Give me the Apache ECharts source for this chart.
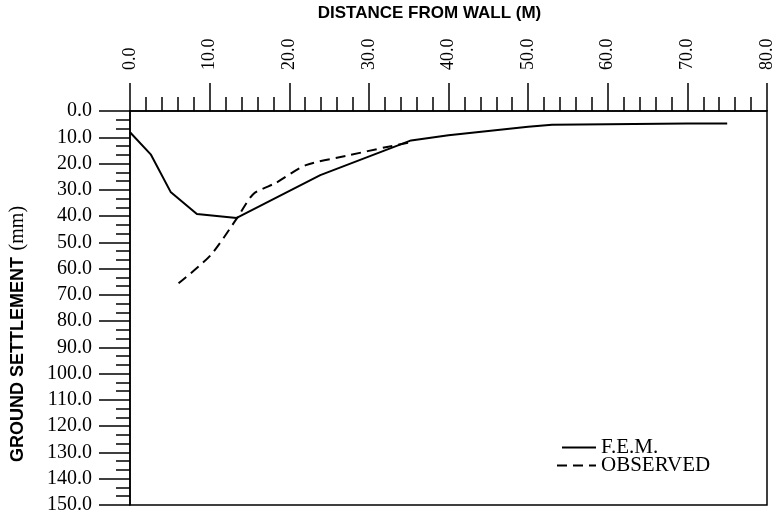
<!DOCTYPE html>
<html>
<head>
    <meta charset="utf-8">
    <title>Ground settlement</title>
    <script src="https://cdn.jsdelivr.net/npm/echarts@6/dist/echarts.min.js"></script>
</head>
<body style="margin:0;background:#fff;">
    <div id="main" style="width: 779px;height: 518px;"></div>
    <script type="text/javascript">
        // distance from wall (m), settlement (mm)
        var femX = [0, 2.6, 5.1, 8.4, 13.4, 23.9, 35.3, 40, 45, 50, 53, 60, 70, 75];
        var femY = [8.1, 16.5, 30.8, 39.2, 40.7, 24.4, 11.2, 9.2, 7.6, 6.0, 5.2, 5.0, 4.8, 4.8];
        var obsX = [6.1, 10.1, 13.4, 15.5, 18.3, 22.1, 27.6, 32.1, 35.3];
        var obsY = [65.6, 55, 41, 31.6, 27.4, 20.6, 16.8, 13.8, 11.9];
        var seriesNames = ['F.E.M.', 'OBSERVED'];

        function pairs(xs, ys) {
            var out = [];
            for (var i = 0; i < xs.length; i++) out.push([xs[i], ys[i]]);
            return out;
        }

        var serif = '"Liberation Serif", "DejaVu Serif", serif';
        var sans = '"Liberation Sans", Arial, sans-serif';

        var myChart = echarts.init(document.getElementById('main'));
        var option = {
            animation: false,
            backgroundColor: '#fff',
            grid: {
                left: 126, right: 12, top: 108, bottom: 13,
                show: true, borderColor: '#000', borderWidth: 1.5
            },
            legend: [{
                data: [seriesNames[0]],
                left: 556, top: 432,
                itemWidth: 34, itemHeight: 14,
                itemStyle: { opacity: 0 },
                textStyle: { fontFamily: serif, fontSize: 21, color: '#000' }
            }, {
                data: [seriesNames[1]],
                left: 551, top: 450,
                itemWidth: 39, itemHeight: 14,
                itemStyle: { opacity: 0 },
                textStyle: { fontFamily: serif, fontSize: 21, color: '#000' }
            }],
            xAxis: {
                type: 'value',
                position: 'top',
                min: 0, max: 80, interval: 10,
                name: 'DISTANCE FROM WALL (M)',
                nameLocation: 'middle',
                nameGap: 89,
                nameTextStyle: {
                    fontFamily: sans, fontWeight: 'bold', fontSize: 17, color: '#000',
                    padding: [0, 38, 0, 0]
                },
                axisLine: { lineStyle: { color: '#000', width: 1.5 } },
                axisTick: { length: 28, lineStyle: { color: '#000', width: 1.5 } },
                minorTick: { show: true, splitNumber: 5, length: 14, lineStyle: { color: '#000', width: 1.5 } },
                splitLine: { show: false },
                axisLabel: {
                    rotate: 90, margin: 41,
                    fontFamily: serif, fontSize: 18, color: '#000',
                    formatter: function (v) { return v.toFixed(1); }
                }
            },
            yAxis: {
                type: 'value',
                inverse: true,
                min: 0, max: 150, interval: 10,
                name: '{b|GROUND SETTLEMENT}  {s|(mm)}',
                nameLocation: 'middle',
                nameRotate: 90,
                nameGap: 102,
                nameTextStyle: {
                    padding: [0, 52, 0, 0],
                    rich: {
                        b: { fontFamily: sans, fontWeight: 'bold', fontSize: 18, color: '#000' },
                        s: { fontFamily: serif, fontSize: 20, color: '#000' }
                    }
                },
                axisLine: { lineStyle: { color: '#000', width: 1.5 } },
                axisTick: { length: 31, lineStyle: { color: '#000', width: 1.5 } },
                minorTick: { show: true, splitNumber: 3, length: 14, lineStyle: { color: '#000', width: 1.5 } },
                splitLine: { show: false },
                axisLabel: {
                    margin: 38,
                    fontFamily: serif, fontSize: 20, color: '#000',
                    formatter: function (v) { return v.toFixed(1); }
                }
            },
            series: [{
                name: seriesNames[0],
                type: 'line',
                data: pairs(femX, femY),
                symbol: 'none',
                lineStyle: { color: '#000', width: 2, type: 'solid' },
                itemStyle: { color: '#000' }
            }, {
                name: seriesNames[1],
                type: 'line',
                data: pairs(obsX, obsY),
                symbol: 'none',
                smooth: 0.25,
                lineStyle: { color: '#000', width: 2, type: [10, 6] },
                itemStyle: { color: '#000' }
            }]
        };
        myChart.setOption(option);
    </script>
</body>
</html>
